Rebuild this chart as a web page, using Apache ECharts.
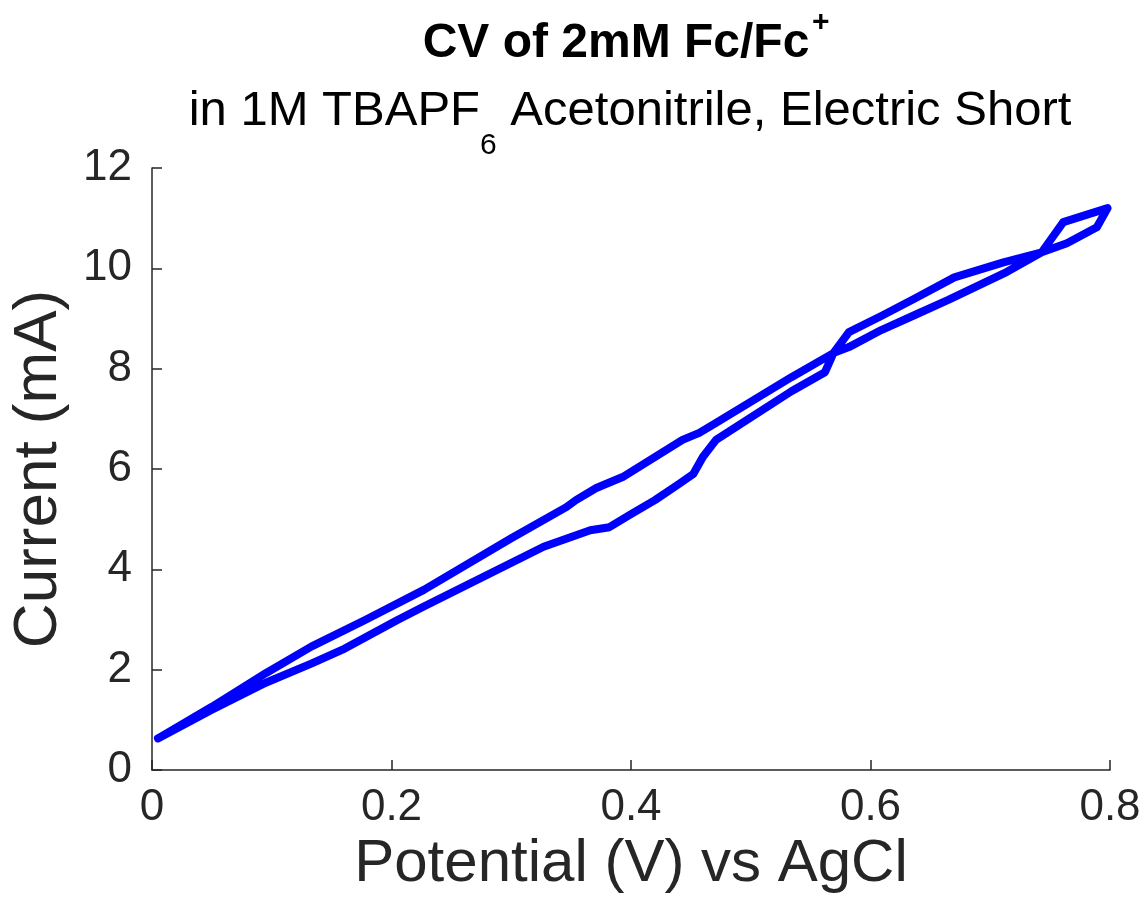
<!DOCTYPE html>
<html>
<head>
<meta charset="utf-8">
<script src="https://cdn.jsdelivr.net/npm/echarts@6/dist/echarts.min.js"></script>
<style>
  html, body { margin: 0; padding: 0; background: #fff; }
  #chart { width: 1144px; height: 916px; }
</style>
</head>
<body>
<div id="chart"></div>
<script>
// forward scan (0 -> 0.8 V)
const forwardV = [0.005, 0.050, 0.095, 0.133, 0.161, 0.205, 0.227, 0.327, 0.366, 0.382, 0.400, 0.420, 0.440, 0.452, 0.460, 0.471, 0.534, 0.562, 0.569, 0.582, 0.609, 0.637, 0.670, 0.711, 0.743, 0.761, 0.798]
const forwardI = [0.63, 1.20, 1.74, 2.12, 2.42, 2.99, 3.26, 4.45, 4.78, 4.84, 5.10, 5.38, 5.70, 5.90, 6.24, 6.58, 7.55, 7.93, 8.31, 8.73, 9.05, 9.40, 9.82, 10.12, 10.32, 10.92, 11.20]
// reverse scan (0.8 -> 0 V)
const reverseV = [0.798, 0.789, 0.764, 0.743, 0.714, 0.665, 0.637, 0.609, 0.582, 0.569, 0.534, 0.471, 0.457, 0.443, 0.393, 0.371, 0.354, 0.346, 0.300, 0.227, 0.178, 0.133, 0.095, 0.050, 0.005]
const reverseI = [11.20, 10.82, 10.50, 10.32, 9.93, 9.37, 9.07, 8.77, 8.43, 8.31, 7.83, 6.92, 6.72, 6.58, 5.84, 5.62, 5.38, 5.24, 4.62, 3.59, 2.99, 2.46, 1.93, 1.26, 0.63]

const xTicks = [0, 0.2, 0.4, 0.6, 0.8]
const yTicks = [0, 2, 4, 6, 8, 10, 12]

const font = 'Liberation Sans, Arial, Helvetica, sans-serif'
const ink = '#262626'

const loop = forwardV.map((v, i) => [v, forwardI[i]])
  .concat(reverseV.map((v, i) => [v, reverseI[i]]))

const chart = echarts.init(document.getElementById('chart'))
chart.setOption({
  backgroundColor: '#fff',
  animation: false,
  title: [
    {
      text: 'CV of 2mM Fc/Fc',
      left: 616, top: 20, textAlign: 'center', padding: 0,
      textStyle: { fontFamily: font, fontSize: 48, fontWeight: 'bold', color: '#000' }
    },
    {
      // superscript of the title
      text: '+',
      left: 812, top: 8, padding: 0,
      textStyle: { fontFamily: font, fontSize: 30, fontWeight: 'bold', color: '#000' }
    },
    {
      text: '{n|in 1M TBAPF}{s|6}{n| Acetonitrile, Electric Short}',
      left: 630, top: 87, textAlign: 'center', padding: 0,
      textStyle: {
        fontWeight: 'normal',
        rich: {
          n: { fontFamily: font, fontSize: 49, fontWeight: 'normal', color: '#000', lineHeight: 56, verticalAlign: 'top' },
          s: { fontFamily: font, fontSize: 30, fontWeight: 'normal', color: '#000', lineHeight: 30, verticalAlign: 'top', padding: [44, 0, 0, 0] }
        }
      }
    }
  ],
  grid: { left: 146, right: 34, top: 168, bottom: 146 },
  xAxis: {
    type: 'value', min: xTicks[0], max: xTicks[xTicks.length - 1], interval: 0.2,
    name: 'Potential (V) vs AgCl', nameLocation: 'middle', nameGap: 54,
    nameTextStyle: { fontFamily: font, fontSize: 60, color: ink },
    axisLine: { lineStyle: { color: ink, width: 1.5 } },
    axisTick: { inside: true, length: 10, lineStyle: { color: ink, width: 1.5 } },
    axisLabel: { fontFamily: font, fontSize: 44, color: ink, margin: 16 },
    splitLine: { show: false }
  },
  yAxis: {
    type: 'value', min: yTicks[0], max: yTicks[yTicks.length - 1], interval: 2,
    name: 'Current (mA)', nameLocation: 'middle', nameGap: 82,
    nameTextStyle: { fontFamily: font, fontSize: 62, color: ink },
    axisLine: { show: true, lineStyle: { color: ink, width: 1.5 } },
    axisTick: { show: true, inside: true, length: 10, lineStyle: { color: ink, width: 1.5 } },
    axisLabel: { fontFamily: font, fontSize: 44, color: ink, margin: 20 },
    splitLine: { show: false }
  },
  series: [{
    type: 'line', data: loop, showSymbol: false, smooth: false,
    lineStyle: { color: '#0000ff', width: 8, cap: 'round', join: 'round' }
  }]
})
</script>
</body>
</html>
